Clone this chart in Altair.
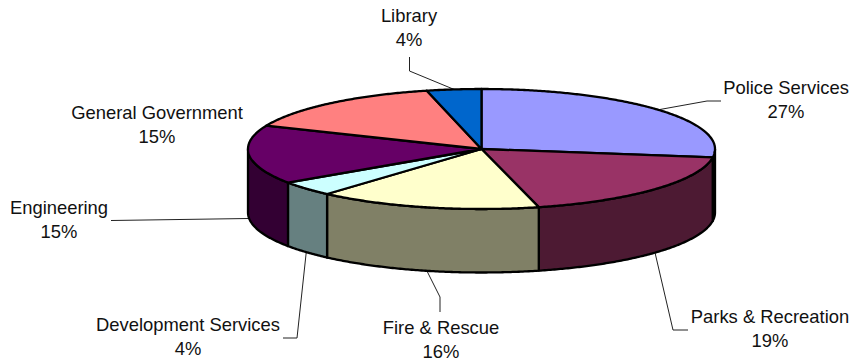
import math

import altair as alt
import pandas as pd

# Budget shares, clockwise from twelve o'clock
names = ["Police Services", "Parks & Recreation", "Fire & Rescue", "Development Services",
         "Engineering", "General Government", "Library"]
shares = [27, 19, 16, 4, 15, 15, 4]
top_colors = ["#9999FF", "#993366", "#FFFFCC", "#CCFFFF", "#660066", "#FF8080", "#0066CC"]
side_colors = ["#4D4D80", "#4D1A33", "#808066", "#668080", "#330033", "#804040", "#003366"]

# Disc geometry, in canvas units
W, H = 854, 362
CX, CY, RX, RY = 481.5, 149.0, 233.5, 60.0
DEPTH = 63.5
WARP_RIGHT, WARP_LEFT = 0.8, 1.8  # degrees of angular foreshortening from the viewing tilt

# Label centres (x, first-line y) and leader bends, per slice
label_pos = {
    "Police Services": (786, 88), "Parks & Recreation": (770, 317), "Fire & Rescue": (441, 328),
    "Development Services": (188, 325), "Engineering": (59, 208),
    "General Government": (157, 113), "Library": (409, 16),
}
leader_bends = {
    "Police Services": [(707, 101), (721, 101)],
    "Parks & Recreation": [(673, 330), (688, 330)],
    "Fire & Rescue": [(440, 297), (440, 312)],
    "Development Services": [(297, 338), (283, 338)],
    "Engineering": [(111, 220.5)],
    "Library": [(409.5, 71), (409.5, 57)],
}
LINE_GAP = 24


def warp(deg):
    if deg <= 180:
        return deg + WARP_RIGHT * math.sin(math.radians(deg))
    return deg - WARP_LEFT * math.sin(math.radians(2 * deg))


def rim(deg, drop=0.0):
    t = math.radians(deg)
    return CX + RX * math.sin(t), CY - RY * math.cos(t) + drop


def arc(a, b, drop=0.0):
    n = max(2, int(abs(b - a) * 2))
    return [rim(a + (b - a) * i / n, drop) for i in range(n + 1)]


faces, leaders, labels = [], [], []
start = 0.0
starts = []
for s in shares:
    starts.append(start)
    start += s * 3.6


def add_face(key, fill, pts):
    pts = pts + [pts[0]]
    for i, (x, y) in enumerate(pts):
        faces.append({"face": key, "fill": fill, "seq": i, "x": x, "y": y})


# Wall segments: only the part of the rim on the near side (90° to 270°) is visible
for name, a, s, col in zip(names, starts, shares, side_colors):
    lo, hi = max(warp(a), 90.0), min(warp(a + s * 3.6), 270.0)
    if hi > lo:
        add_face("side " + name, col, arc(lo, hi) + arc(hi, lo, DEPTH))

# Top wedges
for name, a, s, col in zip(names, starts, shares, top_colors):
    add_face("top " + name, col, [(CX, CY)] + arc(warp(a), warp(a + s * 3.6)))

# Leaders start on the rim at each slice's middle angle
for name, a, s in zip(names, starts, shares):
    if name in leader_bends:
        mid = warp(a + s * 1.8)
        drop = DEPTH if 90 < mid < 270 else 0.0
        pts = [rim(mid, drop)] + leader_bends[name]
        for i, (x, y) in enumerate(pts):
            leaders.append({"name": name, "seq": i, "x": x, "y": y})
    lx, ly = label_pos[name]
    labels.append({"text": name, "x": lx, "y": ly})
    labels.append({"text": f"{s}%", "x": lx, "y": ly + LINE_GAP})

x_enc = alt.X("x:Q", axis=None, scale=alt.Scale(domain=[0, W], nice=False, zero=False))
y_enc = alt.Y("y:Q", axis=None, scale=alt.Scale(domain=[H, 0], nice=False, zero=False))

disc = alt.Chart(pd.DataFrame(faces)).mark_line(
    stroke="black", strokeWidth=2.3, strokeJoin="round", clip=False
).encode(
    x=x_enc, y=y_enc, order="seq:Q",
    detail="face:N",
    fill=alt.Fill("fill:N", scale=None),
)

leader_lines = alt.Chart(pd.DataFrame(leaders)).mark_line(
    stroke="#222222", strokeWidth=1
).encode(x=x_enc, y=y_enc, order="seq:Q", detail="name:N")

text = alt.Chart(pd.DataFrame(labels)).mark_text(
    font="Liberation Sans", fontSize=18.4, color="#111111", align="center", baseline="middle"
).encode(x=x_enc, y=y_enc, text="text:N")

chart = alt.layer(leader_lines, disc, text).properties(
    width=W, height=H, padding=0, autosize=alt.AutoSizeParams(type="none"), background="white"
).configure_view(stroke=None)

chart.save("out.html", embed_options={"renderer": "svg", "actions": False})
